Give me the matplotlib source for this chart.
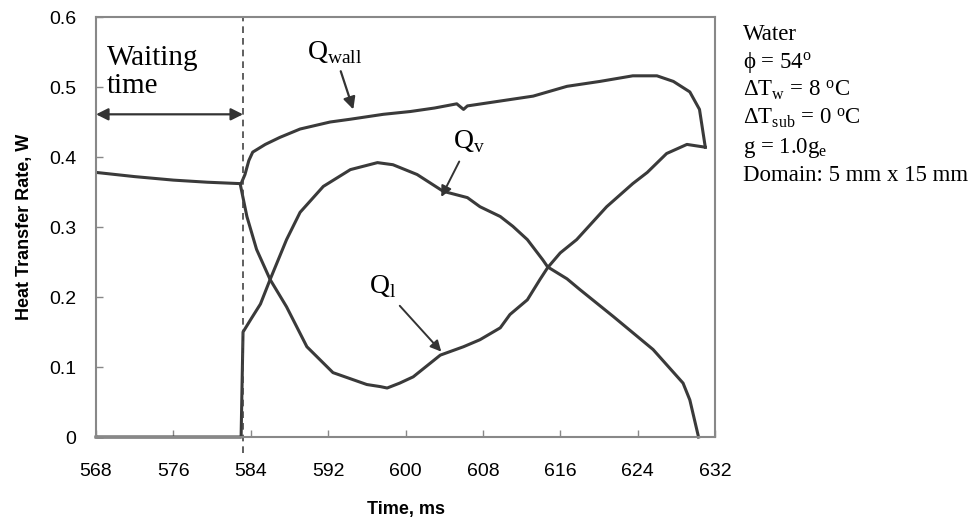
import matplotlib.pyplot as plt

# liquid-side heat transfer rate
t_liq = [568, 572, 576, 579.5, 582.9, 583.6, 584.6, 586, 587.7, 589.8, 592.5, 596,
         597.4, 598.1, 599.4, 600.8, 603.6, 606.0, 607.7, 609.8, 610.8, 612.6, 613.9,
         614.7, 616.0, 617.7, 620.8, 623.5, 625, 627, 629.1, 631.0]
q_liq = [0.378, 0.372, 0.367, 0.364, 0.362, 0.315, 0.268, 0.225, 0.186, 0.129, 0.092, 0.075,
         0.072, 0.070, 0.077, 0.086, 0.117, 0.129, 0.139, 0.156, 0.175, 0.196, 0.225,
         0.242, 0.263, 0.282, 0.329, 0.362, 0.378, 0.405, 0.418, 0.414]

# vapour-side heat transfer rate
t_vap = [568, 583.0, 583.2, 584.0, 585, 586, 587.7, 589.1, 591.5, 594.3, 597.1, 598.7,
         601.2, 603.9, 606.4, 607.7, 609.8, 611.1, 612.6, 614.2, 614.7, 616.7, 618,
         621.5, 625.6, 628.7, 629.4, 630.3]
q_vap = [0.0, 0.0, 0.150, 0.168, 0.190, 0.225, 0.282, 0.321, 0.358, 0.382, 0.392, 0.389,
         0.375, 0.351, 0.342, 0.329, 0.315, 0.301, 0.282, 0.253, 0.243, 0.226, 0.211,
         0.172, 0.125, 0.077, 0.053, 0.0]

# total wall heat transfer rate
t_wall = [583.0, 583.4, 583.8, 584.2, 585.5, 587, 589.1, 592.2, 594.3, 597.7, 600.5, 603,
          605.3, 606, 606.4, 609.8, 613.2, 616.7, 620.1, 623.5, 626, 627.7, 629.4, 630.4, 631.0]
q_wall = [0.362, 0.375, 0.395, 0.407, 0.418, 0.428, 0.440, 0.450, 0.454, 0.461, 0.465, 0.470,
          0.476, 0.468, 0.473, 0.480, 0.487, 0.501, 0.508, 0.516, 0.516, 0.508, 0.493, 0.468, 0.414]

x_ticks = [568, 576, 584, 592, 600, 608, 616, 624, 632]
y_ticks = [0, 0.1, 0.2, 0.3, 0.4, 0.5, 0.6]
y_labels = ['0', '0.1', '0.2', '0.3', '0.4', '0.5', '0.6']
t_nucleation = 583.2

serif = ['Liberation Serif', 'DejaVu Serif']
sans = ['Liberation Sans', 'DejaVu Sans']
line_col = '#3a3a3a'

plt.rcParams['mathtext.fontset'] = 'custom'
plt.rcParams['mathtext.rm'] = 'Liberation Serif'

fig = plt.figure(figsize=(9.77, 5.22), dpi=100)
ax = fig.add_axes([0.0983, 0.1628, 0.6335, 0.8046])

ax.plot(t_liq, q_liq, color=line_col, lw=2.2)
ax.plot(t_vap, q_vap, color=line_col, lw=2.2, clip_on=False)
ax.plot(t_wall, q_wall, color=line_col, lw=2.2)

ax.plot([t_nucleation, t_nucleation], [-0.023, 0.6], color='#444444', lw=1.2,
        ls=(0, (4, 3)), clip_on=False)

ax.set_xlim(568, 632)
ax.set_ylim(0, 0.6)
ax.set_xticks(x_ticks)
ax.set_xticklabels([str(v) for v in x_ticks], family=sans, fontsize=14)
ax.set_yticks(y_ticks)
ax.set_yticklabels(y_labels, family=sans, fontsize=14)
ax.tick_params(direction='in', length=5, color='#888888', width=1)
ax.tick_params(axis='x', pad=19)
ax.tick_params(axis='y', pad=14)
for s in ax.spines.values():
    s.set_color('#888888')
    s.set_linewidth(1.5)

ax.set_xlabel('Time, ms', family=sans, fontsize=13, fontweight='bold', labelpad=15)
ax.set_ylabel('Heat Transfer Rate, W', family=sans, fontsize=13, fontweight='bold', labelpad=12)

# waiting time span
ax.text(569.1, 0.532, 'Waiting', family=serif, fontsize=21, ha='left', va='baseline')
ax.text(569.1, 0.492, 'time', family=serif, fontsize=21, ha='left', va='baseline')
ax.annotate('', xy=(568, 0.461), xytext=(t_nucleation, 0.461),
            arrowprops=dict(arrowstyle='<|-|>', color='#333333', lw=1.6,
                            mutation_scale=18, shrinkA=0, shrinkB=0))

# curve labels
ax.annotate(r'Q$_{\mathregular{wall}}$', xy=(594.6, 0.468), xytext=(589.8, 0.540),
            family=serif, fontsize=20, ha='left', va='baseline',
            arrowprops=dict(arrowstyle='-|>', color='#333333', lw=1.6,
                            mutation_scale=18, shrinkA=2, shrinkB=0))
ax.annotate(r'Q$_{\mathregular{v}}$', xy=(603.7, 0.343), xytext=(606.6, 0.422),
            family=serif, fontsize=20, ha='center', va='center',
            arrowprops=dict(arrowstyle='-|>', color='#333333', lw=1.4,
                            mutation_scale=16, shrinkA=3, shrinkB=0))
ax.annotate(r'Q$_{\mathregular{l}}$', xy=(603.7, 0.122), xytext=(597.6, 0.215),
            family=serif, fontsize=20, ha='center', va='center',
            arrowprops=dict(arrowstyle='-|>', color='#333333', lw=1.4,
                            mutation_scale=16, shrinkA=3, shrinkB=0))

# case parameters
params = ['Water',
          r'$\mathregular{\phi}$ = 54$\mathregular{^o}$',
          r'$\mathregular{\Delta T_w}$ = 8 $\mathregular{^oC}$',
          r'$\mathregular{\Delta T_{sub}}$ = 0 $\mathregular{^oC}$',
          r'g = 1.0g$\mathregular{_e}$',
          'Domain: 5 mm x 15 mm']
for i, line in enumerate(params):
    fig.text(743 / 977, 1 - (40 + 28.2 * i) / 522, line, family=serif, fontsize=16.5,
             ha='left', va='baseline')

fig.savefig('out.png', dpi=100)
